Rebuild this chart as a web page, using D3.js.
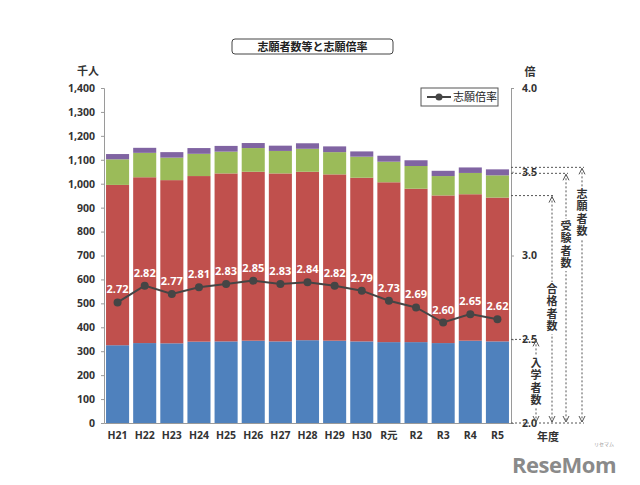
<!DOCTYPE html>
<html><head><meta charset="utf-8">
<script src="https://cdn.jsdelivr.net/npm/d3@7"></script>
<style>
html,body{margin:0;padding:0;background:#fff;}
svg{display:block;font-family:"Noto Sans CJK JP","Noto Sans",sans-serif;}
</style></head>
<body>
<svg id="chart" width="640" height="485"></svg>
<script>
const years = ["H21","H22","H23","H24","H25","H26","H27","H28","H29","H30","R元","R2","R3","R4","R5"];
const enrolled   = [325,334,333,340,341,344,341,346,344,341,338,338,334,344,341];
const passed     = [995,1027,1015,1032,1043,1050,1043,1050,1039,1025,1006,979,951,956,942];
const examinees  = [1102,1129,1109,1125,1134,1149,1137,1146,1132,1113,1092,1074,1032,1045,1035];
const applicants = [1124,1150,1132,1149,1158,1170,1159,1169,1156,1135,1117,1098,1054,1068,1060];
const ratio      = [2.72,2.82,2.77,2.81,2.83,2.85,2.83,2.84,2.82,2.79,2.73,2.69,2.60,2.65,2.62];
const leftTicks  = [0,100,200,300,400,500,600,700,800,900,1000,1100,1200,1300,1400];
const rightTicks = [2.0,2.5,3.0,3.5,4.0];
const seriesNames = ["入学者数","合格者数","受験者数","志願者数"];
const colors = ["#4F81BD","#C0504D","#9BBB59","#8064A2"];

const svg = d3.select("#chart");
const L = 104, R = 511, T = 88, B = 423;

const x = d3.scaleBand().domain(years).range([L, R]).paddingInner(0.15).paddingOuter(0.075);
const y = d3.scaleLinear().domain([0, 1400]).range([B, T]);
const y2 = d3.scaleLinear().domain([2.0, 4.0]).range([B, T]);

// stacked segments built from cumulative totals
const totals = [enrolled, passed, examinees, applicants];
const rows = years.map((yr, i) => {
  const o = {year: yr};
  seriesNames.forEach((n, k) => { o[n] = totals[k][i] - (k ? totals[k-1][i] : 0); });
  return o;
});
const stack = d3.stack().keys(seriesNames)(rows);

svg.append("g").selectAll("g").data(stack).join("g")
  .attr("fill", (d, k) => colors[k])
  .selectAll("rect").data(d => d).join("rect")
  .attr("x", d => x(d.data.year))
  .attr("width", x.bandwidth())
  .attr("y", d => y(d[1]))
  .attr("height", d => y(d[0]) - y(d[1]));

// axes
const axisColor = "#9a9a9a";
const gl = svg.append("g").attr("transform", `translate(${L},0)`)
  .call(d3.axisLeft(y).tickValues(leftTicks).tickFormat(d3.format(",")).tickSize(3).tickPadding(6));
const gr = svg.append("g").attr("transform", `translate(${R},0)`)
  .call(d3.axisRight(y2).tickValues(rightTicks).tickFormat(d3.format(".1f")).tickSize(3).tickPadding(8));
[gl, gr].forEach(g => {
  g.select(".domain").attr("stroke", axisColor);
  g.selectAll(".tick line").attr("stroke", axisColor);
  g.selectAll(".tick text").attr("fill", "#333").attr("font-size", 10.5).attr("font-weight", "bold")
    .attr("font-family", "'Open Sans','Noto Sans',sans-serif");
});
const gx = svg.append("g").attr("transform", `translate(0,${B})`)
  .call(d3.axisBottom(x).tickSize(0).tickPadding(9));
gx.select(".domain").attr("stroke", axisColor);
gx.selectAll(".tick text").attr("fill", "#333").attr("font-size", 10.5).attr("font-weight", "bold")
  .attr("font-family", "'Open Sans','Noto Sans CJK JP',sans-serif");

// ratio line
const lineColor = "#454545";
const line = d3.line().x((d, i) => x(years[i]) + x.bandwidth()/2).y(d => y2(d));
svg.append("path").datum(ratio).attr("d", line).attr("fill", "none").attr("stroke", lineColor).attr("stroke-width", 2);
svg.append("g").selectAll("circle").data(ratio).join("circle")
  .attr("cx", (d, i) => x(years[i]) + x.bandwidth()/2).attr("cy", d => y2(d)).attr("r", 4).attr("fill", lineColor);
svg.append("g").selectAll("text").data(ratio).join("text")
  .attr("x", (d, i) => x(years[i]) + x.bandwidth()/2).attr("y", d => y2(d) - 9)
  .attr("text-anchor", "middle").attr("fill", "#fff").attr("font-size", 11).attr("font-weight", "bold")
  .attr("font-family", "'Open Sans','Noto Sans',sans-serif")
  .text(d => d.toFixed(2));

// unit labels
svg.append("text").attr("x", 88).attr("y", 75).attr("text-anchor", "middle").attr("font-size", 11).attr("font-weight", "bold").attr("fill", "#333").text("千人");
svg.append("text").attr("x", 530).attr("y", 76).attr("text-anchor", "middle").attr("font-size", 11).attr("font-weight", "bold").attr("fill", "#333").text("倍");
svg.append("text").attr("x", 548).attr("y", 441).attr("text-anchor", "middle").attr("font-size", 11).attr("font-weight", "bold").attr("fill", "#333").text("年度");

// title
svg.append("rect").attr("x", 232).attr("y", 39).attr("width", 161).attr("height", 15).attr("rx", 3)
  .attr("fill", "#fff").attr("stroke", "#444");
svg.append("text").attr("x", 312.5).attr("y", 50.5).attr("text-anchor", "middle").attr("font-size", 11).attr("font-weight", "bold").attr("fill", "#222").text("志願者数等と志願倍率");

// legend
svg.append("rect").attr("x", 421).attr("y", 88).attr("width", 77).attr("height", 18).attr("fill", "#fff").attr("stroke", "#555");
svg.append("line").attr("x1", 427).attr("x2", 451).attr("y1", 97).attr("y2", 97).attr("stroke", lineColor).attr("stroke-width", 2);
svg.append("circle").attr("cx", 439).attr("cy", 97).attr("r", 3.5).attr("fill", lineColor);
svg.append("text").attr("x", 453).attr("y", 101).attr("font-size", 11).attr("fill", "#222").text("志願倍率");

// right-side annotation brackets (from the last year's totals)
const last = years.length - 1;
const ann = [
  {name: "入学者数", v: enrolled[last],   ax: 536, ty: 357},
  {name: "合格者数", v: passed[last],     ax: 552, ty: 283},
  {name: "受験者数", v: examinees[last],  ax: 566, ty: 220},
  {name: "志願者数", v: applicants[last], ax: 582, ty: 188}
];
const dash = "2,2", dc = "#555", fs = 11, ls = 1.5;
const ga = svg.append("g");
ga.append("line").attr("x1", R).attr("x2", 584).attr("y1", B).attr("y2", B).attr("stroke", dc).attr("stroke-dasharray", dash);
ann.forEach(a => {
  const yt = y(a.v) - 2;
  ga.append("line").attr("x1", R).attr("x2", a.ax + 2).attr("y1", yt).attr("y2", yt).attr("stroke", dc).attr("stroke-dasharray", dash);
  ga.append("line").attr("x1", a.ax).attr("x2", a.ax).attr("y1", yt + 1).attr("y2", B - 1).attr("stroke", dc).attr("stroke-dasharray", dash);
  ga.append("path").attr("d", `M${a.ax-3},${yt+7}L${a.ax},${yt+1}L${a.ax+3},${yt+7}`).attr("fill", "none").attr("stroke", dc);
  ga.append("path").attr("d", `M${a.ax-3},${B-7}L${a.ax},${B-1}L${a.ax+3},${B-7}`).attr("fill", "none").attr("stroke", dc);
  ga.append("rect").attr("x", a.ax - 7).attr("y", a.ty - 1).attr("width", 14).attr("height", (fs + ls) * 4 + 2).attr("fill", "#fff");
  ga.append("text").attr("x", a.ax).attr("y", a.ty)
    .style("writing-mode", "vertical-rl").style("glyph-orientation-vertical", "0")
    .attr("letter-spacing", ls)
    .attr("font-size", fs).attr("font-weight", "bold").attr("fill", "#333").text(a.name);
});

// watermark
svg.append("text").attr("x", 616).attr("y", 473).attr("text-anchor", "end").attr("font-size", 22).attr("font-weight", "bold")
  .attr("fill", "#8a8a8a").attr("font-family", "'Open Sans','Noto Sans',sans-serif").attr("letter-spacing", -0.5).text("ReseMom");
svg.append("text").attr("x", 614).attr("y", 446).attr("text-anchor", "end").attr("font-size", 5).attr("fill", "#999").text("リセマム");
</script>
</body></html>
